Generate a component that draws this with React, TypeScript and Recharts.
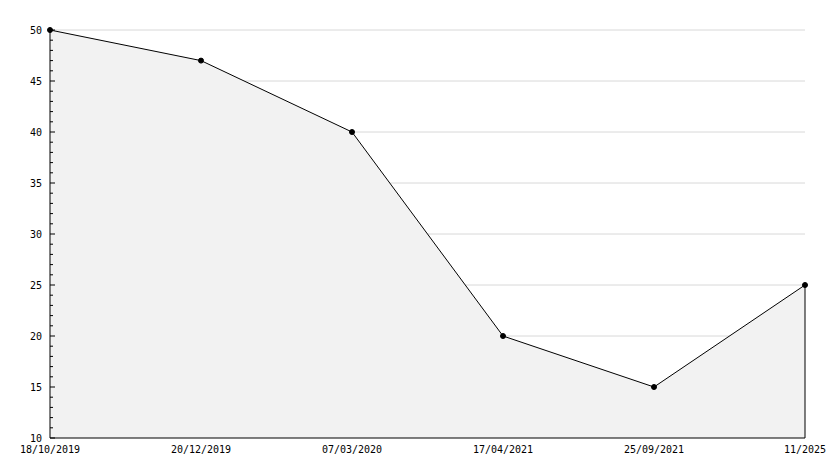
import {
  AreaChart,
  Area,
  XAxis,
  YAxis,
  CartesianGrid,
  ReferenceLine,
} from 'recharts'

const dates = ['18/10/2019', '20/12/2019', '07/03/2020', '17/04/2021', '25/09/2021', '11/2025']
const values = [50, 47, 40, 20, 15, 25]
const yTicks = Array.from({length: 41}, (_, i) => 10 + i)
const gridValues = [15, 20, 25, 30, 35, 40, 45, 50]

const data = dates.map((date, i) => ({date, value: values[i]}))

const font = "'DejaVu Sans Mono', monospace"

const YTick = (props: any) => {
  const {x, y, payload} = props
  const major = payload.value % 5 === 0
  return (
    <g>
      <line x1={x} x2={x + (major ? 5 : 3)} y1={y} y2={y} stroke='#000' />
      {major && (
        <text x={x - 8} y={y} dy='0.36em' textAnchor='end' fontSize={10} fontFamily={font} fill='#000'>
          {payload.value}
        </text>
      )}
    </g>
  )
}

const last = data[data.length - 1]

export default function App() {
  return (
    <div style={{position: 'absolute', left: 0, top: 0, background: '#fff'}}>
      <AreaChart width={834} height={468} data={data}
                 margin={{top: 30, right: 29, left: 0, bottom: 0}}
      >
        <CartesianGrid vertical={false} horizontalValues={gridValues} stroke='#d8d8d8' />
        <XAxis dataKey='date' height={30} interval={0} tickSize={0} tickMargin={8}
               axisLine={{stroke: '#000'}}
               tick={{fontSize: 10, fontFamily: font, fill: '#000'}} />
        <YAxis width={50} domain={[10, 50]} ticks={yTicks} interval={0}
               tickSize={0} tickMargin={0} tickLine={false}
               axisLine={{stroke: '#000'}} tick={<YTick />} />
        <Area type='linear' dataKey='value' stroke='#000' strokeWidth={1} fill='#f2f2f2' fillOpacity={1}
              dot={{r: 2.5, fill: '#000', stroke: '#000', strokeWidth: 1}} activeDot={false}
              isAnimationActive={false} />
        <ReferenceLine segment={[{x: last.date, y: 10}, {x: last.date, y: last.value}]} stroke='#000' />
      </AreaChart>
    </div>
  )
}
